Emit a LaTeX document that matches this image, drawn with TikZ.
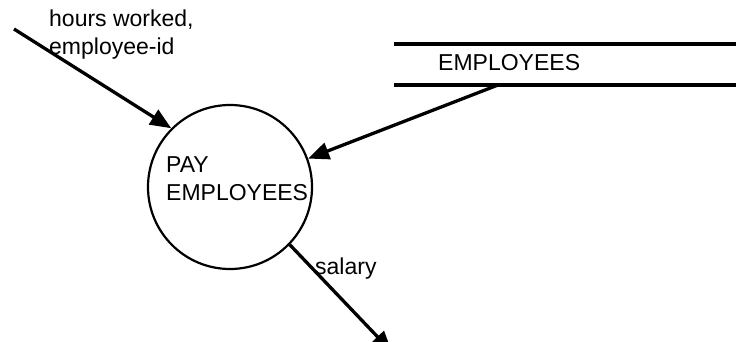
\documentclass[tikz,border=0pt]{standalone}
\usepackage{fontspec}
\setmainfont{Liberation Sans}
\usetikzlibrary{arrows.meta}
\begin{document}
\begin{tikzpicture}[x=1pt,y=-1pt,
  lbl/.style={inner sep=0pt,anchor=west,font=\fontsize{23}{28}\selectfont,align=left},
  flow/.style={line width=3.3pt,-{Triangle[length=21pt,width=17pt]}},
  proc/.style={circle,draw,line width=2.2pt,minimum size=164pt,inner sep=0pt}]
\useasboundingbox (0,0) rectangle (736,342);
\node[proc] (p) at (230,187) {};
\node[lbl] (pt) at (166,179) {PAY\\EMPLOYEES};
\draw[line width=3.3pt] (394,44) coordinate (s1) -- (736,44) coordinate (s2);
\draw[line width=3.3pt] (394,85) coordinate (s3) -- (736,85) coordinate (s4);
\node[lbl] (st) at (438,63) {EMPLOYEES};
\coordinate (in) at (14,29);
\coordinate (sa) at (498,85);
\coordinate (out) at (392,352);
\node[lbl] (hw) at (49,35) {hours worked,\\employee-id};
\node[lbl] (sal) at (315,269) {salary};
\draw[flow] (in) -- (p.135);
\draw[flow] (sa) -- (p.20);
\draw[flow] (p.-44) -- (out);
\end{tikzpicture}
\end{document}
